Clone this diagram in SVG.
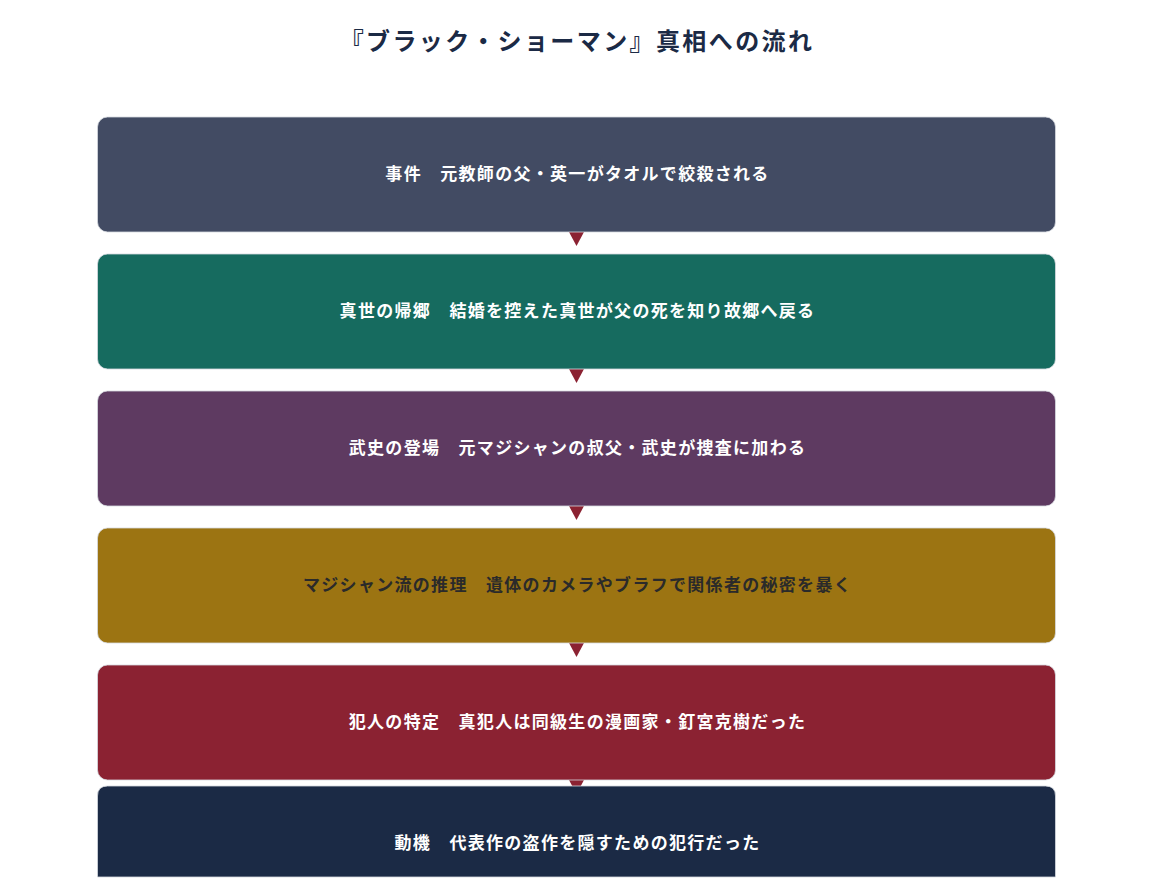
<svg xmlns="http://www.w3.org/2000/svg" width="1152" height="890" viewBox="0 0 1152 890">
<style>
.t{font-family:"Noto Sans CJK JP","Noto Sans",sans-serif;font-weight:700;text-anchor:middle}
.title{font-size:24px;fill:#1b2a45;letter-spacing:2.4px}
.lbl{font-size:17px;fill:#ffffff;letter-spacing:1.3px}
.dark{fill:#2a2a2a}
.box{stroke:#d5d9e0;stroke-width:0.8}
.arr{fill:#8b2232}
</style>
<rect width="1152" height="890" fill="#ffffff"/>
<text class="t title" x="577" y="50">『ブラック・ショーマン』真相への流れ</text>
<g id="connectors">
<path class="arr" d="M569,232 L584,232 L576.5,246 Z"/>
<path class="arr" d="M569,369 L584,369 L576.5,383 Z"/>
<path class="arr" d="M569,506 L584,506 L576.5,520 Z"/>
<path class="arr" d="M569,643 L584,643 L576.5,657 Z"/>
<path class="arr" d="M569,780 L584,780 L576.5,794 Z"/>
</g>
<g id="node1"><rect class="box" x="97.5" y="117" width="958" height="115" rx="10" fill="#424b63"/><text class="t lbl" x="577.5" y="180">事件　元教師の父・英一がタオルで絞殺される</text></g>
<g id="node2"><rect class="box" x="97.5" y="254" width="958" height="115" rx="10" fill="#166b5f"/><text class="t lbl" x="577.5" y="317">真世の帰郷　結婚を控えた真世が父の死を知り故郷へ戻る</text></g>
<g id="node3"><rect class="box" x="97.5" y="391" width="958" height="115" rx="10" fill="#5e3a61"/><text class="t lbl" x="577.5" y="454">武史の登場　元マジシャンの叔父・武史が捜査に加わる</text></g>
<g id="node4"><rect class="box" x="97.5" y="528" width="958" height="115" rx="10" fill="#9c7412"/><text class="t lbl dark" x="577.5" y="591">マジシャン流の推理　遺体のカメラやブラフで関係者の秘密を暴く</text></g>
<g id="node5"><rect class="box" x="97.5" y="665" width="958" height="115" rx="10" fill="#8b2232"/><text class="t lbl" x="577.5" y="728">犯人の特定　真犯人は同級生の漫画家・釘宮克樹だった</text></g>
<g id="node6"><path class="box" d="M97.5,877 L97.5,796 Q97.5,786 107.5,786 L1045.5,786 Q1055.5,786 1055.5,796 L1055.5,877 Z" fill="#1b2a45"/><text class="t lbl" x="577.5" y="849">動機　代表作の盗作を隠すための犯行だった</text></g>
</svg>
